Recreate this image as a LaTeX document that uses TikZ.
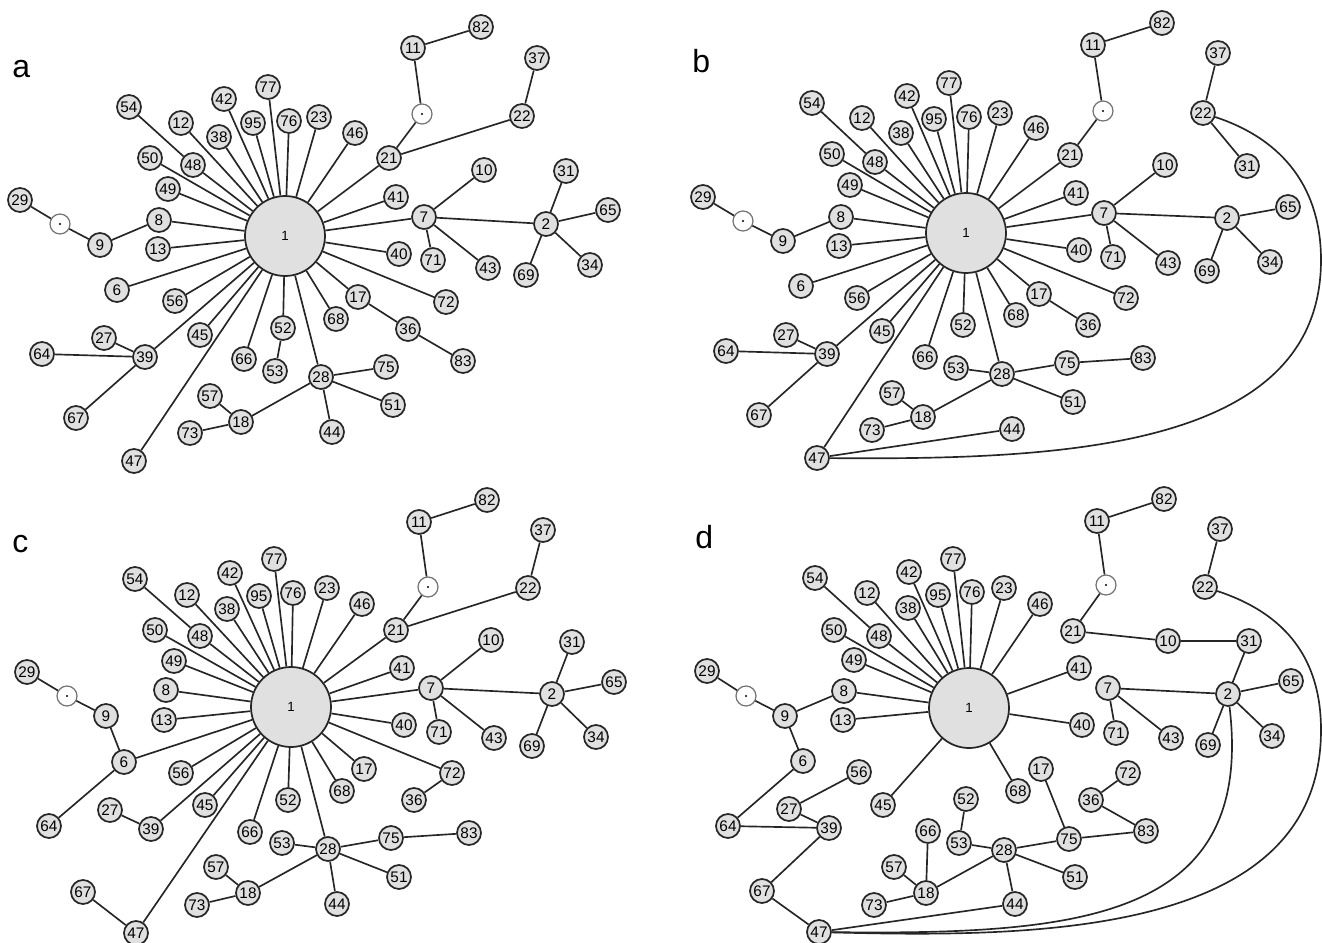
\documentclass[tikz,border=0pt]{standalone}
\usepackage{fontspec}
\setmainfont{Liberation Sans}
\begin{document}
\begin{tikzpicture}[x=0.75pt,y=-0.75pt,
  nd/.style={circle, draw=black!85, line width=1.3pt, fill=black!12, minimum size=18pt, inner sep=0pt, font=\fontsize{11.5}{11.5}\selectfont},
  big/.style={circle, draw=black!85, line width=1.3pt, fill=black!12, minimum size=60pt, inner sep=0pt, font=\fontsize{10}{10}\selectfont},
  hole/.style={circle, draw=black!55, line width=0.9pt, fill=white, minimum size=15pt, inner sep=0pt,
    path picture={\fill[black] (path picture bounding box.center) circle (0.8pt);}},
  ed/.style={line width=1.25pt, draw=black!85},
  lab/.style={anchor=base west, inner sep=0pt, font=\fontsize{24}{24}\selectfont}]
\useasboundingbox (0,0) rectangle (1322,943);

% ---------------- panel a ----------------
\node[lab] (la) at (12,77) {a};
\node[big] (a1) at (285,236) {1};
\node[hole] (aP) at (60,224) {};
\node[hole] (aQ) at (422,114) {};
\foreach \n/\x/\y in {29/20/200, 9/100/245, 8/159/220, 13/158/249, 49/168/189, 50/150/158, 48/193/165, 54/129/107, 12/181/123, 38/219/137, 42/224/99, 95/253/123, 77/268/87, 76/289/121, 23/319/117, 46/355/133, 21/389/158, 11/413/48, 82/481/27, 37/537/58, 22/522/116, 10/484/170, 41/396/197, 7/424/217, 2/546/224, 31/566/171, 65/608/210, 34/590/265, 69/526/275, 43/488/268, 71/433/260, 40/399/254, 72/446/302, 17/358/297, 36/408/329, 83/463/361, 68/336/319, 28/321/377, 75/386/367, 51/393/405, 44/332/432, 52/283/328, 53/275/371, 66/244/359, 45/200/335, 56/175/301, 6/117/290, 39/145/357, 27/104/338, 64/42/354, 67/76/418, 47/134/461, 57/210/396, 18/241/422, 73/190/433}
  \node[nd] (a\n) at (\x,\y) {\n};
\foreach \v in {48,12,38,42,95,77,76,23,46,21,41,7,40,72,17,68,28,52,66,45,56,39,47,6,13,8,49,50}
  \draw[ed] (a1) -- (a\v);
\foreach \u/\v in {48/54, 9/8, P/9, 29/P, 52/53, 21/Q, Q/11, 11/82, 21/22, 22/37, 7/10, 7/2, 7/71, 7/43, 2/31, 2/65, 2/34, 2/69, 17/36, 36/83, 28/75, 28/51, 28/44, 28/18, 18/57, 18/73, 39/27, 39/64, 39/67}
  \draw[ed] (a\u) -- (a\v);

% ---------------- panel b ----------------
\node[lab] (lb) at (692,72) {b};
\node[big] (b1) at (966,233) {1};
\node[hole] (bP) at (743,221) {};
\node[hole] (bQ) at (1103,111) {};
\foreach \n/\x/\y in {29/703/197, 9/783/241, 8/841/217, 13/839/246, 49/850/185, 50/832/154, 48/875/162, 54/812/103, 12/862/118, 38/901/133, 42/907/96, 95/934/119, 77/949/83, 76/969/117, 23/1000/113, 46/1036/128, 21/1070/155, 11/1093/45, 82/1162/23, 37/1218/53, 22/1203/113, 31/1247/166, 10/1165/165, 41/1076/193, 7/1104/213, 2/1227/218, 65/1288/207, 34/1270/262, 69/1207/271, 43/1168/263, 71/1113/257, 40/1079/250, 72/1126/298, 17/1039/294, 36/1088/325, 68/1016/315, 28/1002/374, 75/1067/363, 83/1143/358, 51/1073/402, 44/1012/429, 52/963/325, 53/956/368, 66/925/357, 45/882/331, 56/857/298, 6/801/286, 39/827/354, 27/786/335, 64/726/351, 67/759/415, 47/817/458, 57/892/393, 18/923/417, 73/872/430}
  \node[nd] (b\n) at (\x,\y) {\n};
\foreach \v in {48,12,38,42,95,77,76,23,46,21,41,7,40,72,17,68,28,52,66,45,56,39,47,6,13,8,49,50}
  \draw[ed] (b1) -- (b\v);
\foreach \u/\v in {48/54, 9/8, P/9, 29/P, 21/Q, Q/11, 11/82, 22/37, 22/31, 7/10, 7/2, 7/71, 7/43, 2/65, 2/34, 2/69, 17/36, 28/53, 28/75, 75/83, 28/51, 28/18, 18/57, 18/73, 39/27, 39/64, 39/67, 47/44}
  \draw[ed] (b\u) -- (b\v);
\draw[ed] (b22) .. controls (1285,140) and (1321,190) .. (1321,260)
  .. controls (1321,450) and (1060,460) .. (b47);

% ---------------- panel c ----------------
\node[lab] (lc) at (12,552) {c};
\node[big] (c1) at (291,707) {1};
\node[hole] (cP) at (67,696) {};
\node[hole] (cQ) at (428,587) {};
\foreach \n/\x/\y in {29/27/672, 9/106/716, 6/124/762, 64/49/826, 27/110/810, 39/151/829, 67/83/892, 47/136/933, 8/166/690, 13/164/720, 49/174/661, 50/155/630, 48/200/636, 54/135/579, 12/187/595, 38/227/609, 42/230/573, 95/259/596, 77/274/559, 76/293/593, 23/327/588, 46/362/604, 21/396/630, 11/419/522, 82/487/500, 37/543/530, 22/528/588, 10/491/640, 41/402/668, 7/431/688, 2/552/694, 31/572/642, 65/614/682, 34/596/737, 69/532/746, 43/494/738, 71/439/732, 40/404/725, 72/452/773, 36/414/800, 17/364/769, 68/342/791, 28/328/849, 75/391/838, 83/469/833, 51/399/877, 44/337/904, 52/288/800, 53/282/843, 66/250/832, 45/205/805, 56/181/773, 57/216/867, 18/248/893, 73/197/905}
  \node[nd] (c\n) at (\x,\y) {\n};
\foreach \v in {48,12,38,42,95,77,76,23,46,21,41,7,40,72,17,68,28,52,66,45,56,39,47,6,13,8,49,50}
  \draw[ed] (c1) -- (c\v);
\foreach \u/\v in {48/54, P/9, 29/P, 9/6, 6/64, 39/27, 67/47, 72/36, 21/Q, Q/11, 11/82, 21/22, 22/37, 7/10, 7/2, 7/71, 7/43, 2/31, 2/65, 2/34, 2/69, 28/53, 28/75, 75/83, 28/51, 28/44, 28/18, 18/57, 18/73}
  \draw[ed] (c\u) -- (c\v);

% ---------------- panel d ----------------
\node[lab] (ld) at (695,548) {d};
\node[big] (d1) at (969,708) {1};
\node[hole] (dP) at (746,696) {};
\node[hole] (dQ) at (1106,585) {};
\foreach \n/\x/\y in {29/707/671, 9/785/716, 8/844/691, 13/843/720, 6/803/761, 64/728/826, 27/789/809, 56/859/772, 39/829/828, 67/762/891, 47/819/932, 45/883/805, 49/854/660, 50/834/630, 48/879/636, 54/815/578, 12/867/593, 38/908/608, 42/909/572, 95/938/595, 77/953/559, 76/972/592, 52/966/799, 53/959/843, 66/928/831, 57/894/867, 18/926/893, 73/874/905, 23/1004/588, 46/1040/604, 21/1073/631, 11/1097/521, 82/1164/499, 37/1220/529, 22/1205/587, 10/1168/641, 31/1249/641, 41/1079/668, 7/1108/688, 2/1228/694, 65/1291/681, 34/1272/736, 69/1208/745, 43/1171/738, 71/1116/733, 40/1082/725, 68/1018/791, 17/1041/769, 72/1128/773, 36/1091/800, 83/1146/831, 75/1069/839, 28/1004/850, 51/1075/877, 44/1015/904}
  \node[nd] (d\n) at (\x,\y) {\n};
\foreach \v in {48,12,38,42,95,77,76,23,46,41,40,68,45,13,8,49,50}
  \draw[ed] (d1) -- (d\v);
\foreach \u/\v in {48/54, 9/8, P/9, 29/P, 9/6, 6/64, 64/39, 27/39, 27/56, 39/67, 67/47, 52/53, 53/28, 66/18, 18/57, 18/73, 18/28, 28/75, 28/51, 28/44, 44/47, 17/75, 75/83, 83/36, 36/72, 21/Q, Q/11, 11/82, 21/10, 10/31, 31/2, 2/7, 7/71, 7/43, 2/65, 2/34, 2/69, 22/37}
  \draw[ed] (d\u) -- (d\v);
\draw[ed] (d22) .. controls (1287,614) and (1321,660) .. (1321,730)
  .. controls (1321,935) and (1040,938) .. (d47);
\draw[ed] (d2) .. controls (1255,920) and (1080,935) .. (d47);
\end{tikzpicture}
\end{document}
